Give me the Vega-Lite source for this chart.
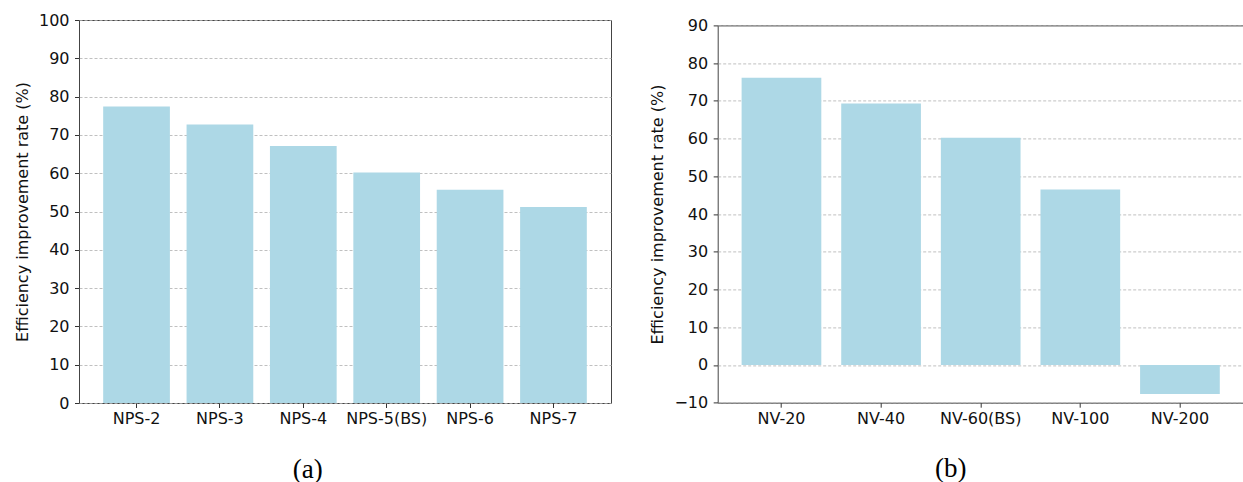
{
  "$schema": "https://vega.github.io/schema/vega-lite/v6.json",
  "padding": {"left": 13, "top": 11, "right": 0, "bottom": 0},
  "background": "white",
  "bounds": "flush",
  "spacing": 106.7,
  "config": {
    "font": "DejaVu Sans",
    "view": {"stroke": "#444", "strokeWidth": 1},
    "axis": {
      "labelFont": "DejaVu Sans", "labelFontSize": 16, "labelColor": "#111",
      "titleFont": "DejaVu Sans", "titleFontSize": 16, "titleFontWeight": "normal", "titleColor": "#111",
      "tickColor": "#333", "tickSize": 4.5, "domain": false
    }
  },
  "datasets": {
    "a": [
      {"config": "NPS-2", "rate": 77.4},
      {"config": "NPS-3", "rate": 72.7},
      {"config": "NPS-4", "rate": 67.1},
      {"config": "NPS-5(BS)", "rate": 60.2},
      {"config": "NPS-6", "rate": 55.7},
      {"config": "NPS-7", "rate": 51.2}
    ],
    "b": [
      {"config": "NV-20", "rate": 76.1},
      {"config": "NV-40", "rate": 69.3},
      {"config": "NV-60(BS)", "rate": 60.2},
      {"config": "NV-100", "rate": 46.5},
      {"config": "NV-200", "rate": -7.7}
    ],
    "spacer": [{"v": 0}]
  },
  "hconcat": [
    {
      "width": 532, "height": 383,
      "data": {"name": "a"},
      "mark": {"type": "bar", "color": "#ADD8E6"},
      "encoding": {
        "x": {
          "field": "config", "type": "nominal", "sort": null,
          "scale": {"paddingInner": 0.2, "paddingOuter": 0.29},
          "axis": {
            "labelAngle": 0, "labelPadding": 3, "grid": false,
            "title": "(a)", "titleFont": "Liberation Serif", "titleFontSize": 27,
            "titleX": 228.2, "titleY": 66, "titleBaseline": "middle", "titleColor": "#000"
          }
        },
        "y": {
          "field": "rate", "type": "quantitative",
          "scale": {"domain": [0, 100], "nice": false},
          "axis": {
            "values": [0, 10, 20, 30, 40, 50, 60, 70, 80, 90, 100],
            "title": "Efficiency improvement rate (%)", "titlePadding": 8, "labelPadding": 5.5,
            "grid": true, "gridColor": "#b0b0b0", "gridDash": [3, 2], "gridWidth": 0.8
          }
        }
      }
    },
    {
      "bounds": "flush",
      "spacing": 4.4,
      "vconcat": [
        {
          "width": 526, "height": 1,
          "data": {"name": "spacer"},
          "mark": {"type": "point", "opacity": 0},
          "encoding": {},
          "view": {"stroke": null}
        },
        {
          "width": 526, "height": 377.3,
          "data": {"name": "b"},
          "mark": {"type": "bar", "color": "#ADD8E6"},
          "encoding": {
            "x": {
              "field": "config", "type": "nominal", "sort": null,
              "scale": {"paddingInner": 0.2, "paddingOuter": 0.24},
              "axis": {
                "labelAngle": 0, "labelPadding": 3, "grid": false,
                "title": "(b)", "titleFont": "Liberation Serif", "titleFontSize": 27,
                "titleX": 232.5, "titleY": 66, "titleBaseline": "middle", "titleColor": "#000"
              }
            },
            "y": {
              "field": "rate", "type": "quantitative",
              "scale": {"domain": [-10, 90], "nice": false},
              "axis": {
                "values": [-10, 0, 10, 20, 30, 40, 50, 60, 70, 80, 90],
                "title": "Efficiency improvement rate (%)", "titlePadding": 8, "labelPadding": 5.5,
                "grid": true, "gridColor": "#b0b0b0", "gridDash": [3, 2], "gridWidth": 0.8
              }
            }
          }
        }
      ]
    }
  ]
}
